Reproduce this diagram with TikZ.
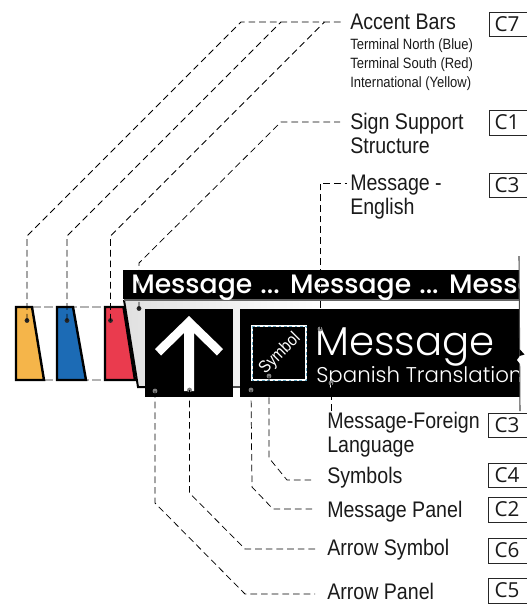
\documentclass[tikz,border=0pt]{standalone}
\usepackage{fontspec}
\setmainfont{Liberation Sans}
\newfontfamily\narrowf[FakeStretch=0.87]{Liberation Sans}
\newfontfamily\codef{Open Sans}
\newfontfamily\signlight[UprightFont={* Light}]{Poppins}
\newfontfamily\signbold[UprightFont={* Medium}]{Poppins}
\usetikzlibrary{calc}
\definecolor{accY}{HTML}{F5B54A}
\definecolor{accB}{HTML}{1C6BB5}
\definecolor{accR}{HTML}{EA3B4E}
\definecolor{lbl}{HTML}{1A1A1A}
\tikzset{
  accent/.style={draw=black,line width=1.8pt,line join=miter},
  ghost/.style={draw=gray!60,dash pattern=on 7pt off 2pt,line width=.8pt},
  leader/.style={draw=black,dash pattern=on 5pt off 3pt,line width=.55pt},
  dotb/.style={circle,fill=black!85,inner sep=0pt,minimum size=3.6pt},
  dotg/.style={circle,fill=gray,inner sep=0pt,minimum size=3.6pt},
  panel/.style={fill=black,draw=none},
  big/.style={font=\narrowf\fontsize{16.9}{17}\selectfont,text=lbl,anchor=base west,inner sep=0pt},
  small/.style={font=\narrowf\fontsize{11.2}{12}\selectfont,text=lbl,anchor=base west,inner sep=0pt},
  code/.style={font=\codef\fontsize{15.5}{16}\selectfont,text=lbl},
  codebox/.style={draw=black!85,line width=.7pt,fill=white}
}
\begin{document}
\begin{tikzpicture}[x=0.75pt,y=-0.75pt]
\useasboundingbox (0,0) rectangle (526,604);
% ghost outlines between accent bars
\draw[ghost] (32,307) -- (105,307);
\draw[ghost] (44,380) -- (105,380);
% accent bars
\path[accent,fill=accY] (16,307) -- (32,307) -- (44,380) -- (16,380) -- cycle;
\path[accent,fill=accB] (57,307) -- (73,307) -- (86,380) -- (57,380) -- cycle;
\path[accent,fill=accR] (105,307) -- (123.5,307) -- (135,380) -- (105,380) -- cycle;
% support structure
\shade[left color=black!12,right color=white,middle color=white]
  (124,300) -- (519,300) -- (519,387) -- (138,387) -- cycle;
\draw[black,line width=1.5pt,line join=miter] (124,300) -- (138,387) -- (146,387);
\draw[black!60,line width=.9pt] (124,300) -- (519,300);
\draw[black!70,line width=.9pt] (233,387) -- (240,387);
% top banner
\fill[black] (123,270) rectangle (519,299);
\begin{scope}
\clip (123,270) rectangle (519,299);
\node[anchor=base west,inner sep=0pt,text=white] (banner) at (131,293.5)
  {\signbold\fontsize{20}{20}\selectfont Message\hspace{0.9pt} ...\hspace{0.9pt} Message\hspace{0.9pt} ...\hspace{0.9pt} Message};
\end{scope}
% panels
\path[panel] (145,309) rectangle (233,397);
\path[panel] (240,309) rectangle (520,397);
% arrow
\fill[white] (189,316) -- (223,349) -- (217,355.5) -- (194,333) -- (194,391) -- (184,391) -- (184,333) -- (161,355.5) -- (155,349) -- cycle;
% symbol
\draw[white,line width=1.2pt] (252,326) rectangle (306,380);
\draw[cyan!50!gray,line width=.3pt,dash pattern=on 2pt off 2pt] (252,326) rectangle (306,380);
\node[rotate=45,text=white,font=\narrowf\fontsize{13}{13}\selectfont,inner sep=0pt] (symbolText) at (280,354) {Symbol};
% panel text
\begin{scope}
\clip (240,309) rectangle (520,397);
\node[anchor=base west,inner sep=0pt,text=white] (msgMain) at (315,355)
  {\signlight\fontsize{30.2}{31}\selectfont Message};
\node[anchor=base west,inner sep=0pt,text=white] (msgSpan) at (316,382)
  {\signlight\fontsize{16}{17}\selectfont Spanish Translation};
\end{scope}
% right-hand edge
\coordinate (edgeTop) at (519,256);
\coordinate (edgeBot) at (520,411);
\draw[black!70,line width=.8pt] (edgeTop) -- (edgeBot);
\fill[white] (521,354.5) -- (517,360) -- (521,365) -- cycle;
\fill[black] (519.5,349) -- (524.5,354.5) -- (519.5,356) -- cycle;
% labels
\node[big] (lAccent) at (350,29) {Accent Bars};
\node[small] (lN) at (350,49) {Terminal North (Blue)};
\node[small] (lS) at (350,68) {Terminal South (Red)};
\node[small] (lI) at (350,87) {International (Yellow)};
\node[big] (lSign) at (350,129) {Sign Support};
\node[big] (lStruct) at (350,153) {Structure};
\node[big] (lEng) at (350,190) {Message -};
\node[big] (lEng2) at (350,214) {English};
\node[big] (lFor) at (327,428) {Message-Foreign};
\node[big] (lFor2) at (327,452) {Language};
\node[big] (lSym) at (327,483) {Symbols};
\node[big] (lMP) at (327,517) {Message Panel};
\node[big] (lAS) at (327,555) {Arrow Symbol};
\node[big] (lAP) at (327,599) {Arrow Panel};
% code boxes
\foreach \nm/\t/\yt/\yb/\xl in {c7/C7/12/36/489,c1/C1/110/135/489,c3a/C3/173/197/489,c3b/C3/413/437/488,c4/C4/463/487/488,c2/C2/497/522/488,c6/C6/538/563/488,c5/C5/578/603/488}{
  \path[codebox] (\xl,\yt) rectangle (530,\yb);
  \node[code,anchor=center,inner sep=0pt] (\nm) at (507,{(\yt+\yb)/2}) {\t};
}
% leader end points
\node[dotb] (dY) at (27,320.5) {};
\node[dotb] (dB) at (67,320.5) {};
\node[dotb] (dR) at (110.5,320.5) {};
\node[dotb] (dS) at (139,308.5) {};
\node[dotg] (dEng) at (320,329) {};
\node[dotg] (dFor) at (331,383) {};
\node[dotg] (dSym) at (269,376) {};
\node[dotg] (dMP) at (251,390) {};
\node[dotg] (dAS) at (189.5,390) {};
\node[dotg] (dAP) at (155,391) {};
\coordinate (eAccent) at (343,22);
\coordinate (eSign) at (340,122);
\coordinate (eEng) at (347,183);
\coordinate (eFor) at (331,411);
\coordinate (eSym) at (315,480);
\coordinate (eMP) at (315,509);
\coordinate (eAS) at (315,549);
\coordinate (eAP) at (315,594);
% leaders
\draw[leader] (dY.center) -- (27,236) -- (241,22) -- (eAccent);
\draw[leader] (dB.center) -- (67,236) -- (281,22);
\draw[leader] (dR.center) -- (110.5,236) -- (324.5,22);
\draw[leader] (dS.center) -- (139,263) -- (281,122) -- (eSign);
\draw[leader] (dEng.center) -- (320,183) -- (eEng);
\draw[leader] (dFor.center) -- (eFor);
\draw[leader] (dSym.center) -- (269,458) -- (287,480) -- (eSym);
\draw[leader] (dMP.center) -- (252,487) -- (273,509) -- (eMP);
\draw[leader] (dAS.center) -- (189.5,493) -- (245,549) -- (eAS);
\draw[leader] (dAP.center) -- (155,503) -- (245,594) -- (eAP);
\end{tikzpicture}
\end{document}
